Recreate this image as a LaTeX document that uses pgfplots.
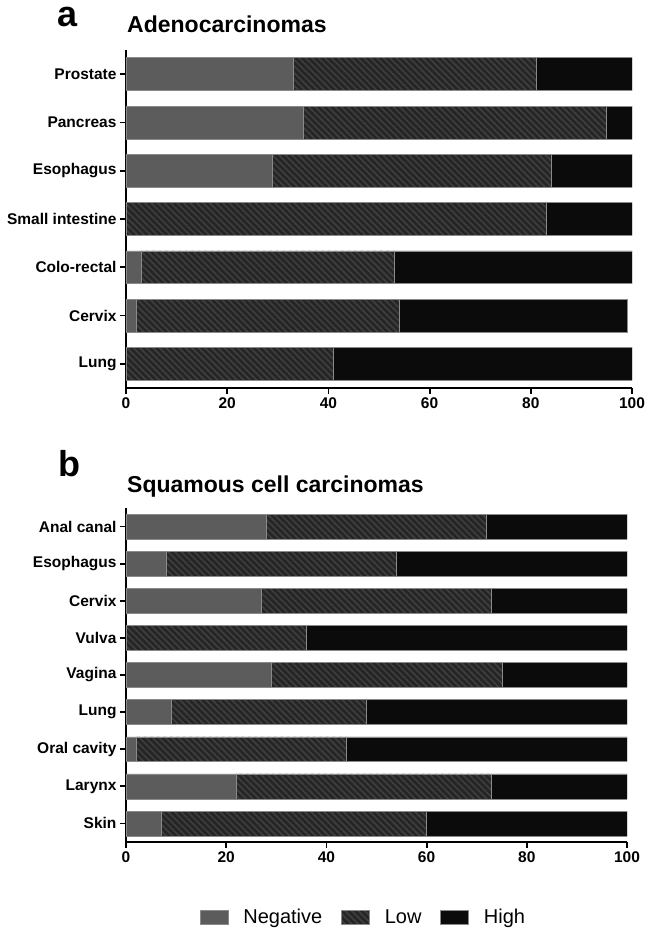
\documentclass[border=0pt]{standalone}
\usepackage{pgfplots}
\pgfplotsset{compat=1.18}
\usepackage{pgfplotstable}
\usepackage{fontspec}
\setmainfont{Liberation Sans}
\usetikzlibrary{patterns,patterns.meta}

\definecolor{negc}{HTML}{5C5C5C}
\definecolor{lowbg}{HTML}{252525}
\definecolor{lowst}{HTML}{3E3E3E}
\definecolor{highc}{HTML}{0B0B0B}
\definecolor{edgec}{HTML}{8A8A8A}

\pgfplotstableread{
y neg low high
0 0 41 59
1 2 52 45
2 3 50 47
3 0 83 17
4 29 55 16
5 35 60 5
6 33 48 19
}\dataA

\pgfplotstableread{
y neg low high
0 7 53 40
1 22 51 27
2 2 42 56
3 9 39 52
4 29 46 25
5 0 36 64
6 27 46 27
7 8 46 46
8 28 44 28
}\dataB

\pgfplotsset{
  negstyle/.style={fill=negc, draw=edgec, line width=0.5pt},
  lowstyle/.style={fill=lowbg, draw=edgec, line width=0.5pt,
    postaction={pattern={Lines[angle=-45,distance=4.6pt,line width=1.7pt]}, pattern color=lowst}},
  highstyle/.style={fill=highc, draw=edgec, line width=0.5pt},
  panel/.style={
    scale only axis,
    xbar stacked,
    xmin=0, xmax=100,
    xtick={0,20,40,60,80,100},
    axis x line*=bottom,
    axis y line*=left,
    axis line style={line width=1.8pt, black},
    tick align=outside,
    major tick length=6pt,
    tick style={line width=1.8pt, black},
    ytick=data,
    /pgf/number format/assume math mode=true,
    tick label style={font=\fontsize{15.5}{18}\selectfont\bfseries},
    legend image code/.code={\draw[##1] (0pt,-7pt) rectangle (28pt,7pt);},
  },
}

\begin{document}
\begin{tikzpicture}
\path[use as bounding box] (0pt,0pt) rectangle (645pt,930pt);

\node[anchor=base west, font=\fontsize{36}{44}\selectfont\bfseries, inner sep=0pt] at (57pt,903pt) {a};
\node[anchor=base west, font=\fontsize{23}{27}\selectfont\bfseries, inner sep=0pt] at (127pt,897pt) {Adenocarcinomas};
\node[anchor=base west, font=\fontsize{36}{44}\selectfont\bfseries, inner sep=0pt] at (58pt,453pt) {b};
\node[anchor=base west, font=\fontsize{23}{27}\selectfont\bfseries, inner sep=0pt] at (127pt,437pt) {Squamous cell carcinomas};

\begin{axis}[panel,
  at={(126pt,542pt)}, anchor=south west,
  width=506pt, height=338pt,
  ymin=-0.5, ymax=6.5,
  bar width=0.68,
  yticklabels={Lung,Cervix,Colo-rectal,Small intestine,Esophagus,Pancreas,Prostate},
]
\addplot[negstyle] table[x=neg,y=y] {\dataA};
\addplot[lowstyle] table[x=low,y=y] {\dataA};
\addplot[highstyle] table[x=high,y=y] {\dataA};
\end{axis}

\begin{axis}[panel,
  at={(126pt,88pt)}, anchor=south west,
  width=501pt, height=334pt,
  ymin=-0.5, ymax=8.5,
  bar width=0.67,
  yticklabels={Skin,Larynx,Oral cavity,Lung,Vagina,Vulva,Cervix,Esophagus,Anal canal},
  legend columns=3,
  legend style={draw=none, at={(0.474,-0.225)}, anchor=center,
    font=\fontsize{20}{24}\selectfont,
    /tikz/every odd column/.append style={column sep=13pt},
    /tikz/every even column/.append style={column sep=17pt}},
]
\addplot[negstyle] table[x=neg,y=y] {\dataB};
\addplot[lowstyle] table[x=low,y=y] {\dataB};
\addplot[highstyle] table[x=high,y=y] {\dataB};
\legend{Negative,Low,High}
\end{axis}
\end{tikzpicture}
\end{document}
